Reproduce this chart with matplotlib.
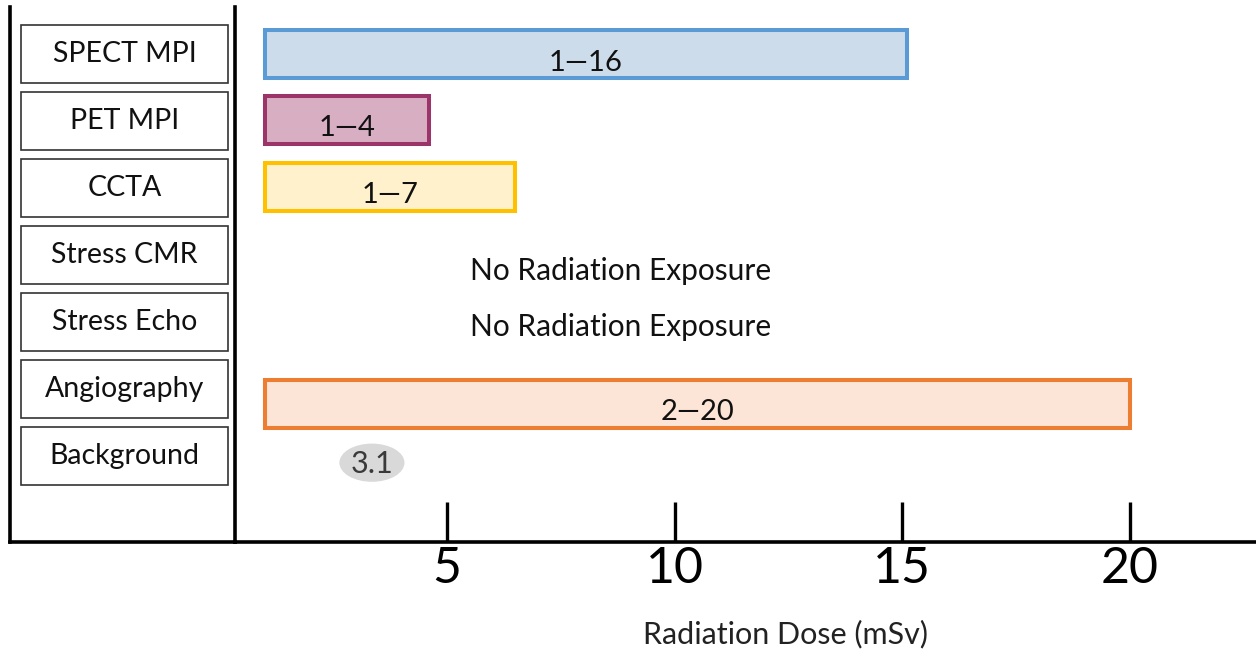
import matplotlib
matplotlib.use("Agg")
import matplotlib.pyplot as plt
from matplotlib.patches import Rectangle, Ellipse

plt.rcParams['font.family'] = ['Lato', 'DejaVu Sans']

# ---- data ----
categories = ["SPECT MPI", "PET MPI", "CCTA", "Stress CMR", "Stress Echo", "Angiography", "Background"]
bar_rows = [0, 1, 2, 5]
bar_start = [1.0, 1.0, 1.0, 1.0]
bar_end = [15.1, 4.6, 6.5, 20.0]
bar_labels = ["1\u201416", "1\u20144", "1\u20147", "2\u201420"]
bar_fill = ["#ccdcea", "#d8aec3", "#fff1cb", "#fce4d6"]
bar_edge = ["#5b9bd5", "#9b3468", "#ffc000", "#ed7d31"]
none_rows = [3, 4]
none_text = "No Radiation Exposure"
background_value = 3.1
background_x = 3.35
xticks = [5, 10, 15, 20]
xtick_labels = ["5", "10", "15", "20"]
xlabel = "Radiation Dose (mSv)"

# layout offsets (rows)
bar_dy = [0.0, -0.02, -0.02, 0.22]
none_dy = [0.24, 0.08]

W, H = 1256, 655
fig = plt.figure(figsize=(W / 100, H / 100), dpi=100)

top_px, bot_px = 7, 542
ax_bottom = (H - bot_px) / H
ax_height = (bot_px - top_px) / H
ylim = ((bot_px - 54) / 67.0, (top_px - 54) / 67.0)

# left panel with category boxes (drawn first, under the main axes)
left_px = 235
lax = fig.add_axes([10 / W, ax_bottom, (left_px - 10) / W, ax_height])
lax.set_xlim(0, 1)
lax.set_ylim(*ylim)
lax.patch.set_visible(False)
for s in ["top", "right"]:
    lax.spines[s].set_visible(False)
for s in ["left", "bottom"]:
    lax.spines[s].set_linewidth(2.6)
    lax.spines[s].set_color("black")
lax.set_xticks([])
lax.set_yticks([])
box_h = 0.86
for i, c in enumerate(categories):
    lax.add_patch(Rectangle((0.049, i - box_h / 2), 0.92, box_h, facecolor="white",
                            edgecolor="#333333", linewidth=1.2))
    lax.text(0.509, i, c, ha="center", va="center", fontsize=20.5, color="#111111")

# main axes
ax = fig.add_axes([left_px / W, ax_bottom, (W - left_px) / W, ax_height])
ax.patch.set_visible(False)
x0 = (left_px - 219.4) / 45.53
x1 = (W - 219.4) / 45.53
ax.set_xlim(x0, x1)
ax.set_ylim(*ylim)
for s in ["top", "right"]:
    ax.spines[s].set_visible(False)
for s in ["left", "bottom"]:
    ax.spines[s].set_linewidth(2.6)
    ax.spines[s].set_color("black")
ax.set_yticks([])
ax.set_xticks(xticks)
ax.set_xticklabels(xtick_labels)
ax.tick_params(axis="x", direction="in", length=29, width=2.4, labelsize=36, pad=3, colors="black")

ys = [r + d for r, d in zip(bar_rows, bar_dy)]
ax.barh(ys, [e - s for s, e in zip(bar_start, bar_end)], left=bar_start,
        height=0.72, color=bar_fill, edgecolor=bar_edge, linewidth=2.9)
for y, s, e, lab in zip(ys, bar_start, bar_end, bar_labels):
    ax.text((s + e) / 2, y + 0.13, lab, ha="center", va="center", fontsize=21, color="#111111")

for r, dy in zip(none_rows, none_dy):
    ax.text(8.82, r + dy, none_text, ha="center", va="center", fontsize=21.5, color="#111111")

ax.add_patch(Ellipse((background_x, 6.1), 1.43, 0.57, facecolor="#d9d9d9", edgecolor="none"))
ax.text(background_x, 6.12, f"{background_value}", ha="center", va="center", fontsize=22, color="#3a3a3a")

ax.set_xlabel(xlabel, fontsize=22, color="#222222")
ax.xaxis.set_label_coords(0.539, -0.146)

fig.savefig("out.png", dpi=100)
